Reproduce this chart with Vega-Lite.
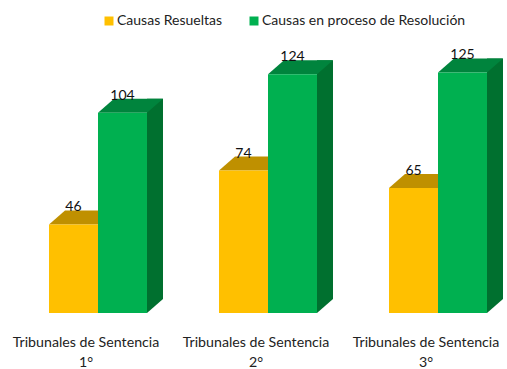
{
  "$schema": "https://vega.github.io/schema/vega-lite/v6.json",
  "width": 507,
  "height": 313,
  "autosize": "none",
  "padding": {"left": 0, "top": 0, "right": 0, "bottom": 56},
  "background": "white",
  "view": {"stroke": null},
  "config": {"font": "Lato"},
  "data": {"values": [
    {"tribunal": "Tribunales de Sentencia 1°", "serie": "Causas Resueltas", "causas": 46},
    {"tribunal": "Tribunales de Sentencia 1°", "serie": "Causas en proceso de Resolución", "causas": 104},
    {"tribunal": "Tribunales de Sentencia 2°", "serie": "Causas Resueltas", "causas": 74},
    {"tribunal": "Tribunales de Sentencia 2°", "serie": "Causas en proceso de Resolución", "causas": 124},
    {"tribunal": "Tribunales de Sentencia 3°", "serie": "Causas Resueltas", "causas": 65},
    {"tribunal": "Tribunales de Sentencia 3°", "serie": "Causas en proceso de Resolución", "causas": 125}
  ]},
  "encoding": {
    "x": {
      "field": "tribunal", "type": "nominal", "sort": null,
      "scale": {"range": [13, 523], "paddingInner": 0.42353, "paddingOuter": 0.21176},
      "axis": {
        "title": null, "domain": false, "ticks": false, "labelAngle": 0,
        "labelOffset": -12, "labelPadding": 22, "labelFontSize": 14.2, "labelLineHeight": 20,
        "labelColor": "#222222", "labelOverlap": false, "labelBound": false, "labelFlush": false,
        "labelExpr": "[slice(datum.label,0,23), slice(datum.label,24)]"
      }
    },
    "y": {
      "field": "causas", "type": "quantitative",
      "scale": {"domain": [0, 162.6], "nice": false},
      "axis": null
    }
  },
  "layer": [
    {
      "transform": [{"filter": "datum.serie === 'Causas en proceso de Resolución'"}],
      "mark": {"type": "bar", "width": 16, "xOffset": 57, "yOffset": -14, "y2Offset": -14, "fill": "#00702F"}
    },
    {
      "transform": [{"filter": "datum.serie === 'Causas en proceso de Resolución'"}],
      "mark": {"type": "point", "filled": true, "size": 4, "opacity": 1, "shape": "M49 0 L65 -14 L49 -14 Z", "fill": "#00702F", "stroke": null},
      "encoding": {"y": {"datum": 0, "type": "quantitative"}}
    },
    {
      "mark": {"type": "point", "filled": true, "size": 4, "opacity": 1, "shape": "M-24.5 0 L24.5 0 L40.5 -14 L-8.5 -14 Z", "stroke": null},
      "encoding": {
        "xOffset": {"field": "serie", "type": "nominal", "scale": {"domain": ["Causas Resueltas", "Causas en proceso de Resolución"]}},
        "fill": {"condition": {"test": "datum.serie === 'Causas Resueltas'", "value": "#BF9000"}, "value": "#00843D"}
      }
    },
    {
      "mark": {"type": "bar"},
      "encoding": {
        "xOffset": {"field": "serie", "type": "nominal", "scale": {"domain": ["Causas Resueltas", "Causas en proceso de Resolución"]}},
        "color": {
          "field": "serie", "type": "nominal",
          "scale": {"domain": ["Causas Resueltas", "Causas en proceso de Resolución"], "range": ["#FFC000", "#00B050"]},
          "legend": {
            "title": null, "orient": "none", "legendX": 102, "legendY": 14, "direction": "horizontal", "columns": 2,
            "symbolType": "square", "symbolSize": 81, "symbolStrokeWidth": 0, "labelFontSize": 14, "labelColor": "#222222",
            "columnPadding": 24, "labelOffset": 1, "labelLimit": 300
          }
        }
      }
    },
    {
      "mark": {"type": "text", "fontSize": 14, "color": "#111111", "baseline": "alphabetic", "dy": -13},
      "encoding": {
        "xOffset": {"field": "serie", "type": "nominal", "scale": {"domain": ["Causas Resueltas", "Causas en proceso de Resolución"]}},
        "text": {"field": "causas", "type": "quantitative"}
      }
    }
  ]
}
